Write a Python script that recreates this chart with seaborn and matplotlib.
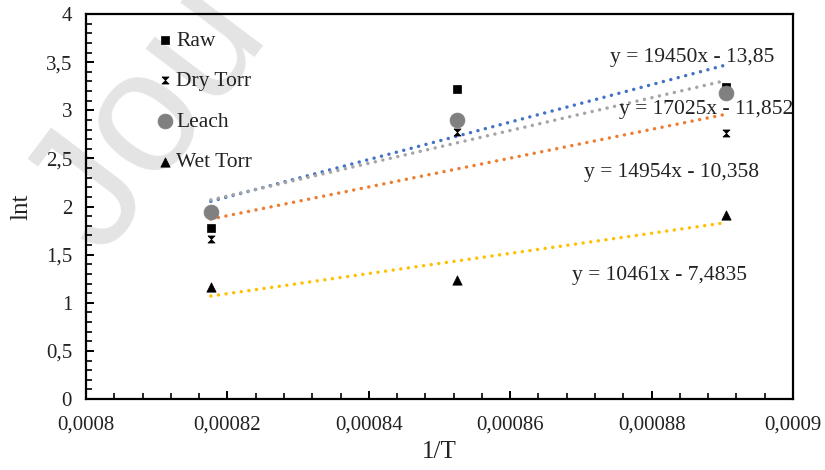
import numpy as np
import pandas as pd
import matplotlib
matplotlib.use("Agg")
import matplotlib.pyplot as plt
from matplotlib.ticker import MultipleLocator, FuncFormatter
import seaborn as sns

# ---- data ----
inv_T = [0.00081766, 0.00085251, 0.00089047]
raw = [1.78, 3.22, 3.24]
dry_torr = [1.66, 2.77, 2.76]
leach = [1.94, 2.90, 3.18]
wet_torr = [1.16, 1.24, 1.91]

series_names = ["Raw", "Dry Torr", "Leach", "Wet Torr"]
slopes = [19450, 14954, 17025, 10461]
intercepts = [-13.85, -10.358, -11.852, -7.4835]
eq_labels = ["y = 19450x - 13,85", "y = 14954x - 10,358",
             "y = 17025x - 11,852", "y = 10461x - 7,4835"]

x_ticks = [0.0008, 0.00082, 0.00084, 0.00086, 0.00088, 0.0009]
y_ticks = [0, 0.5, 1, 1.5, 2, 2.5, 3, 3.5, 4]

# ---- style ----
sns.set_theme(style="white")
plt.rcParams["font.family"] = ["Liberation Serif", "DejaVu Serif"]

fig = plt.figure(figsize=(8.25, 4.7), dpi=100)
fig.patch.set_facecolor("white")
ax = fig.add_axes([86/825, 1-399/470, (793-86)/825, (399-14)/470])
ax.set_facecolor((1, 1, 1, 0))

# watermark (behind the axes)
fig.text(150/825, 1-118/470, "Jou", rotation=53, fontsize=125,
         color="#e4e4e4", family=["Liberation Sans", "DejaVu Sans"],
         ha="center", va="center", zorder=-1, rotation_mode="anchor")

hourglass = [(-1, 1), (1, 1), (-1, -1), (1, -1), (-1, 1)]
data_series = [raw, dry_torr, leach, wet_torr]
line_colors = ["#4472C4", "#ED7D31", "#A5A5A5", "#FFC000"]
marker_styles = ["s", hourglass, "o", "^"]
marker_colors = ["black", "black", "#808080", "black"]
marker_sizes = [36, 26, 115, 45]

# trendlines
xe = np.array([inv_T[0], inv_T[-1]])
for m, b, c in zip(slopes, intercepts, line_colors):
    sns.lineplot(x=xe, y=m * xe + b, color=c, ax=ax, linewidth=2.5,
                 linestyle=(0, (0.01, 2.2)), dash_capstyle="round", zorder=2)

# points
for name, vals, mk, mc, ms in zip(series_names, data_series, marker_styles,
                                  marker_colors, marker_sizes):
    sns.scatterplot(x=inv_T, y=vals, marker=mk, color=mc, s=ms,
                    edgecolor=mc, linewidth=0.5, ax=ax, label=name, zorder=3)

# equations
eq_pos = [(0.00088571, 3.553), (0.00088289, 2.358), (0.00088770, 3.003), (0.00088105, 1.288)]
for (tx, ty), t in zip(eq_pos, eq_labels):
    ax.text(tx, ty, t, fontsize=15.5, ha="center", va="center", color="#222222", zorder=4)

ax.set_xlim(0.0008, 0.0009)
ax.set_ylim(0, 4)
ax.set_xticks(x_ticks)
ax.set_yticks(y_ticks)
ax.xaxis.set_minor_locator(MultipleLocator(0.000004))
ax.yaxis.set_minor_locator(MultipleLocator(0.1))
fmt = FuncFormatter(lambda v, p: ("%g" % round(v, 8)).replace(".", ","))
ax.xaxis.set_major_formatter(fmt)
ax.yaxis.set_major_formatter(fmt)
ax.tick_params(which="major", direction="in", length=6, width=1.4,
               labelsize=15, color="black", labelcolor="#222222")
ax.tick_params(which="minor", direction="in", length=4, width=1.2, color="black")
ax.tick_params(axis="x", pad=12)
ax.tick_params(axis="y", pad=10)
ax.tick_params(which="both", top=False, right=False, bottom=True, left=True)
for s in ax.spines.values():
    s.set_visible(True)
    s.set_color("black")
    s.set_linewidth(1.6)

ax.set_xlabel("1/T", fontsize=18, color="#222222")
ax.set_ylabel("lnt", fontsize=18, color="#222222")
ax.xaxis.set_label_coords(0.5, -0.11)
ax.yaxis.set_label_coords(-0.076, 0.5)

leg = ax.legend(loc="upper left", bbox_to_anchor=(0.096, 0.957), frameon=False,
                fontsize=15.5, labelspacing=0.95, handletextpad=0.05,
                borderaxespad=0, handlelength=1.0, borderpad=0)
for t in leg.get_texts():
    t.set_color("#222222")

fig.savefig("out.png", dpi=100, facecolor="white")
